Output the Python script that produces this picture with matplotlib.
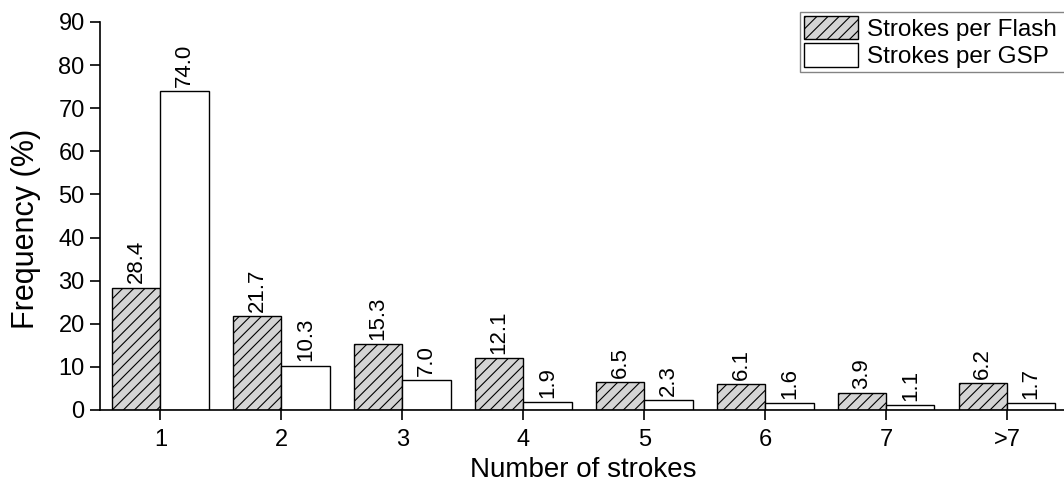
import matplotlib
matplotlib.use("Agg")
import matplotlib.pyplot as plt
import numpy as np

categories = ["1", "2", "3", "4", "5", "6", "7", ">7"]
flash = [28.4, 21.7, 15.3, 12.1, 6.5, 6.1, 3.9, 6.2]
gsp = [74.0, 10.3, 7.0, 1.9, 2.3, 1.6, 1.1, 1.7]
yticks = [0, 10, 20, 30, 40, 50, 60, 70, 80, 90]

plt.rcParams['font.family'] = ['Liberation Sans', 'DejaVu Sans']
plt.rcParams['hatch.linewidth'] = 0.8
plt.rcParams['hatch.color'] = '#333333'

fig = plt.figure(figsize=(10.64, 4.83), dpi=100)
ax = fig.add_axes([100/1064, 73/483, 967.5/1064, 388/483])

x = np.arange(1, len(categories) + 1)
w = 0.4
b1 = ax.bar(x - w/2, flash, w, color='#d4d4d4', edgecolor='black', hatch='///', linewidth=1.0,
            label='Strokes per Flash')
b2 = ax.bar(x + w/2, gsp, w, color='white', edgecolor='black', linewidth=1.0,
            label='Strokes per GSP')

for rects, vals in ((b1, flash), (b2, gsp)):
    for r, v in zip(rects, vals):
        ax.annotate(f"{v:.1f}", (r.get_x() + r.get_width()/2, v), xytext=(0, 3),
                    textcoords='offset points', rotation=90, ha='center', va='bottom',
                    fontsize=16)

ax.set_xlim(0.5, 8.5)
ax.set_ylim(0, 90)
ax.set_yticks(yticks)
ax.set_xticks(x)
ax.set_xticklabels(categories)
ax.tick_params(axis='both', direction='out', length=7, width=1.2, labelsize=17, pad=4)
ax.tick_params(axis='x', pad=7)
for s in ('top', 'right'):
    ax.spines[s].set_visible(False)
for s in ('left', 'bottom'):
    ax.spines[s].set_linewidth(1.2)

ax.set_ylabel('Frequency (%)', fontsize=22)
ax.yaxis.set_label_coords(-0.061, 0.466)
ax.set_xlabel('Number of strokes', fontsize=20, labelpad=4)

leg = ax.legend(loc='upper left', bbox_to_anchor=(800/1064, 1 - 77/483, 290/1064, 65/483),
                bbox_transform=fig.transFigure, mode='expand', fontsize=17.5, frameon=True,
                fancybox=False, edgecolor='#666666', handlelength=2.25, handleheight=1.1,
                borderpad=0.15, labelspacing=0.12, handletextpad=0.35, borderaxespad=0.0)
leg.get_frame().set_linewidth(1.0)

fig.savefig('out.png', dpi=100)
